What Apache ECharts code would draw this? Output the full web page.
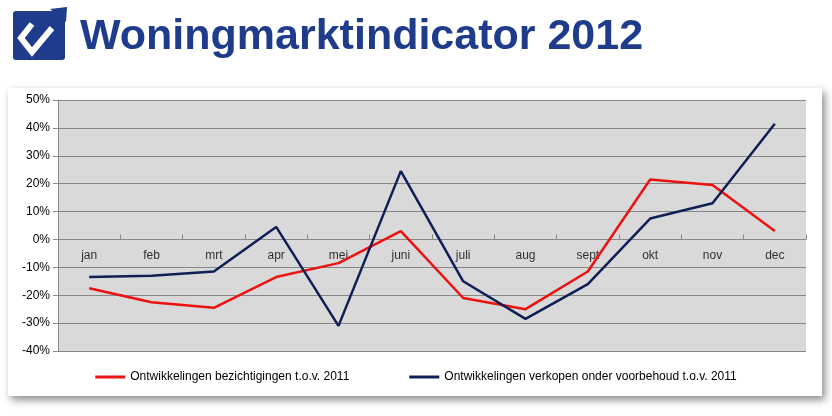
<!DOCTYPE html>
<html><head><meta charset="utf-8">
<script src="https://cdn.jsdelivr.net/npm/echarts@6/dist/echarts.min.js"></script>
<style>html,body{margin:0;padding:0;background:#fff}#c{width:832px;height:416px}</style>
</head><body><div id="c"></div>
<script>
const months = ['jan','feb','mrt','apr','mei','juni','juli','aug','sept','okt','nov','dec'];
const bezichtigingen = [-17.5,-22.5,-24.5,-13.5,-8.5,3,-21,-25,-11.5,21.5,19.5,3];
const verkopen = [-13.5,-13,-11.5,4.5,-31,24.5,-15,-28.5,-16,7.5,13,41.5];
const chart = echarts.init(document.getElementById('c'));
chart.setOption({
  animation:false,
  textStyle:{fontFamily:'Liberation Sans Narrow, Liberation Sans, Arial'},
  graphic:[
    {type:'rect',z:-10,shape:{x:8,y:88,width:814,height:308},style:{fill:'#fff',shadowBlur:8,shadowOffsetX:3,shadowOffsetY:4,shadowColor:'rgba(0,0,0,0.45)'}},
    {type:'rect',shape:{x:13,y:11,width:52,height:49,r:3},style:{fill:'#1f3c8c'}},
    {type:'polyline',shape:{points:[[32,24],[21,38],[32,52],[52,28]]},style:{stroke:'#fff',lineWidth:6,fill:null}},
    {type:'polygon',shape:{points:[[50,9],[67,7],[66,22]]},style:{fill:'#1f3c8c'}},
    {type:'text',left:80,top:16,style:{text:'Woningmarktindicator 2012',fill:'#1f3c8c',font:'bold 43px Liberation Sans Narrow, Liberation Sans, Arial'}}
  ],
  grid:{left:58,right:26,top:100,bottom:65,show:true,backgroundColor:'#d9d9d9',borderWidth:0},
  legend:{bottom:28,left:'center',itemGap:60,itemWidth:30,itemHeight:3,icon:'rect',textStyle:{fontSize:12,color:'#000'},
    data:['Ontwikkelingen bezichtigingen t.o.v. 2011','Ontwikkelingen verkopen onder voorbehoud t.o.v. 2011']},
  xAxis:{type:'category',data:months,boundaryGap:true,
    axisLine:{onZero:true,lineStyle:{color:'#888'}},axisTick:{show:true,inside:true,length:5,lineStyle:{color:'#888'}},
    axisLabel:{show:false}},
  yAxis:{type:'value',min:-40,max:50,interval:10,
    axisLabel:{formatter:'{value}%',color:'#000',fontSize:12},
    axisLine:{show:true,lineStyle:{color:'#888'}},axisTick:{show:true,lineStyle:{color:'#888'}},
    splitLine:{lineStyle:{color:'#888'}}},
  series:[
    {name:'labels',type:'scatter',data:months.map(m=>[m,0]),symbolSize:0,silent:true,z:1,
     label:{show:true,position:'bottom',distance:10,formatter:p=>p.name||p.value[0],color:'#000',fontSize:12}},
    {name:'Ontwikkelingen bezichtigingen t.o.v. 2011',type:'line',data:bezichtigingen,symbol:'none',z:3,lineStyle:{color:'#ee1111',width:2.5},itemStyle:{color:'#ee1111'}},
    {name:'Ontwikkelingen verkopen onder voorbehoud t.o.v. 2011',type:'line',data:verkopen,symbol:'none',z:3,lineStyle:{color:'#0f1f55',width:2.5},itemStyle:{color:'#0f1f55'}}
  ]
});
</script></body></html>
